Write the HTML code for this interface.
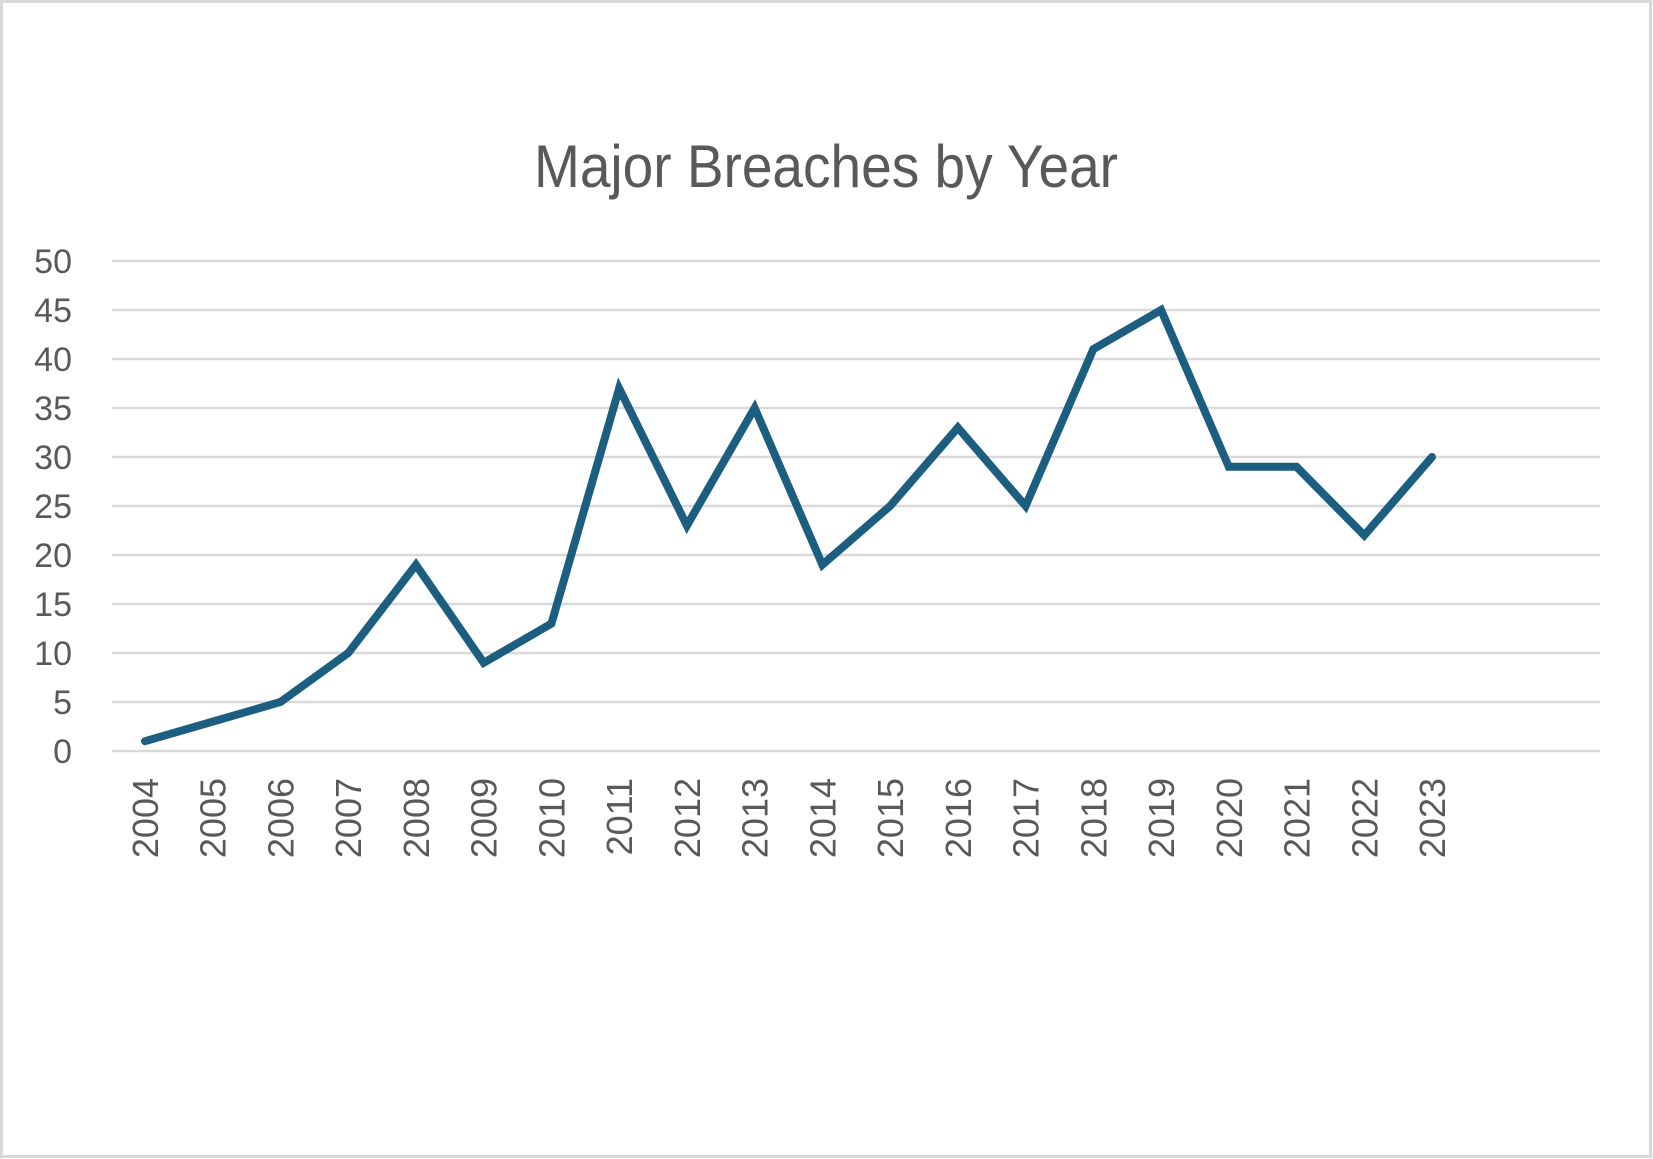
<!DOCTYPE html>
<html><head><meta charset="utf-8"><style>
html,body{margin:0;padding:0;background:#fff}
svg{display:block}
</style></head><body>
<svg id="chart" width="1653" height="1159" xmlns="http://www.w3.org/2000/svg">
<rect x="1.5" y="1.5" width="1649" height="1155" fill="#fff" stroke="#d9d9d9" stroke-width="3"/>
<text x="826" y="187" text-anchor="middle" font-family="Liberation Sans, sans-serif" font-size="60" fill="#595959" textLength="584" lengthAdjust="spacingAndGlyphs">Major Breaches by Year</text>
<g id="grid"></g><g id="yt"></g><g id="xt"></g><g id="series"></g>
</svg>
<script>
const years=["2004","2005","2006","2007","2008","2009","2010","2011","2012","2013","2014","2015","2016","2017","2018","2019","2020","2021","2022","2023"];
const breaches=[1,3,5,10,19,9,13,37,23,35,19,25,33,25,41,45,29,29,22,30];
const yTicks=[0,5,10,15,20,25,30,35,40,45,50];
const NS="http://www.w3.org/2000/svg";
const x=i=>145+i*(1432-145)/19;
const y=v=>751-v*(751-261)/50;
function mk(t,a,p){const e=document.createElementNS(NS,t);for(const k in a)e.setAttribute(k,a[k]);p.appendChild(e);return e;}
const g=document.getElementById('grid'),yt=document.getElementById('yt'),xt=document.getElementById('xt'),s=document.getElementById('series');
yTicks.forEach(v=>{
 const l=mk('line',{x1:112,x2:1600,y1:y(v),y2:y(v),stroke:'#d9d9d9','stroke-width':2.5},g);
 
 
 const t=mk('text',{x:72,y:y(v)+12,'text-anchor':'end','font-family':'Liberation Sans, sans-serif','font-size':34,fill:'#595959'},yt);
 t.textContent=v;
 
 
});
years.forEach((yr,i)=>{
 const cx=x(i)+13;
 const t=mk('text',{x:cx,y:778,'text-anchor':'end','font-family':'Liberation Sans, sans-serif','font-size':36,fill:'#595959',transform:'rotate(-90 '+cx+' 778)'},xt);
 t.textContent=yr;
 
 
});
const p=mk('polyline',{points:breaches.map((v,i)=>x(i)+','+y(v)).join(' '),fill:'none',stroke:'#1b5e80','stroke-width':8,'stroke-linejoin':'miter','stroke-linecap':'round'},s);


</script>
</body></html>
